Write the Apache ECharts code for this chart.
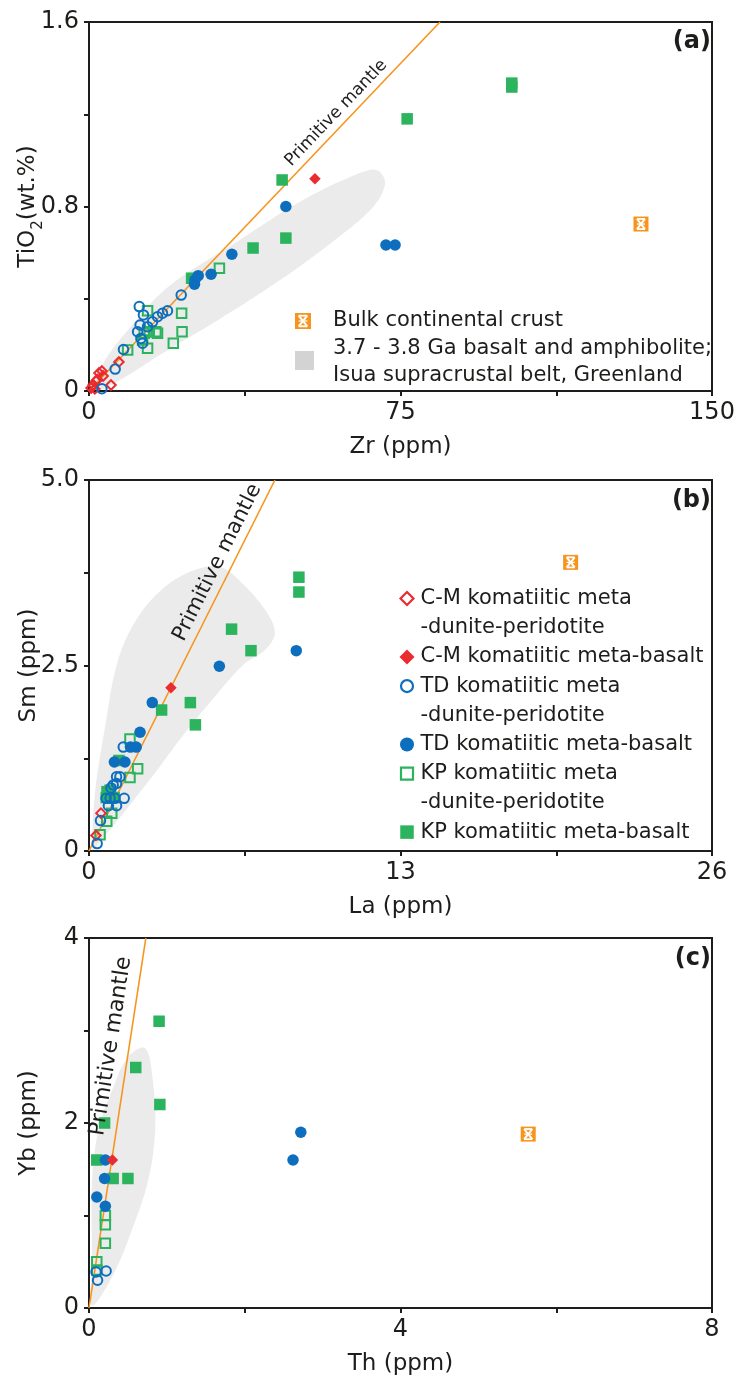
<!DOCTYPE html>
<html>
<head>
<meta charset="utf-8">
<script src="https://cdn.jsdelivr.net/npm/echarts@6/dist/echarts.min.js"></script>
<style>
  html, body { margin: 0; padding: 0; background: #fff; }
  #chart { width: 737px; height: 1382px; }
</style>
</head>
<body>
<div id="chart"></div>
<script>
// ---------- (a) Zr (ppm) vs TiO2 (wt.%) ----------
const aCmDunite = [[0.5,0.013],[1.0,0.026],[1.4,0.009],[1.7,0.043],[2.0,0.05],[2.4,0.078],[3.1,0.087],[3.4,0.065],[5.3,0.026],[7.2,0.126]];
const aCmBasalt = [[54.4,0.92]];
const aTdDunite = [[3.1,0.01],[6.3,0.095],[8.3,0.18],[11.7,0.257],[12.1,0.366],[12.3,0.286],[12.5,0.228],[12.9,0.207],[13.1,0.33],[14.1,0.279],[15.3,0.30],[16.5,0.322],[17.7,0.337],[18.9,0.348],[22.2,0.416]];
const aTdBasalt = [[25.4,0.463],[25.5,0.481],[26.3,0.50],[29.4,0.506],[34.4,0.593],[47.4,0.80],[71.5,0.633],[73.7,0.633]];
const aKpDunite = [[9.3,0.178],[12.9,0.221],[13.3,0.25],[14.1,0.185],[14.1,0.348],[14.5,0.257],[16.1,0.257],[16.5,0.25],[20.3,0.207],[22.3,0.337],[22.4,0.257],[31.4,0.532]];
const aKpBasalt = [[24.7,0.489],[39.5,0.62],[46.5,0.915],[47.4,0.663],[76.6,1.18],[101.8,1.318],[101.8,1.335]];
const aBulkCrust = [[132.9,0.724]];
const aMantle = [[0,0],[84.5,1.6]];
const aIsuaField = [[1.4,0.026],[3.9,0.135],[9.4,0.265],[19.0,0.451],[35.2,0.642],[51.5,0.828],[65.2,0.945],[69.3,0.958],[71.3,0.902],[68.4,0.798],[59.2,0.655],[46.0,0.481],[31.1,0.308],[19.0,0.178],[8.7,0.061],[2.6,0.004]];

// ---------- (b) La (ppm) vs Sm (ppm) ----------
const bCmDunite = [[0.29,0.21],[0.50,0.51]];
const bCmBasalt = [[3.42,2.20]];
const bTdDunite = [[0.34,0.10],[0.48,0.41],[0.71,0.71],[0.81,0.61],[0.88,0.71],[0.92,0.85],[1.01,0.89],[1.08,0.71],[1.15,0.61],[1.15,0.91],[1.15,1.0],[1.29,1.0],[1.43,1.40],[1.47,0.71]];
const bTdBasalt = [[1.06,1.20],[1.50,1.20],[1.73,1.40],[1.97,1.40],[2.13,1.60],[2.64,2.0],[5.44,2.49],[8.65,2.70]];
const bKpDunite = [[0.46,0.22],[0.74,0.40],[0.95,0.51],[0.88,0.82],[1.71,0.99],[2.03,1.11],[1.71,1.51]];
const bKpBasalt = [[0.72,0.72],[0.75,0.80],[0.90,0.80],[1.05,0.72],[1.25,1.22],[3.03,1.90],[4.23,2.0],[4.44,1.70],[5.95,2.99],[6.76,2.70],[8.76,3.49],[8.76,3.69]];
const bBulkCrust = [[20.1,3.89]];
const bMantle = [[0,0],[7.76,5.0]];
const bIsuaField = [[0.13,0.013],[0.25,0.78],[0.67,1.67],[1.21,2.57],[2.04,3.15],[3.17,3.56],[4.42,3.79],[5.47,3.83],[6.39,3.61],[7.35,3.25],[7.76,2.94],[7.35,2.71],[6.51,2.53],[5.38,2.13],[4.0,1.59],[2.63,1.0],[1.21,0.42],[0.25,0.04]];

// ---------- (c) Th (ppm) vs Yb (ppm) ----------
const cCmBasalt = [[0.30,1.60]];
const cTdDunite = [[0.09,0.39],[0.11,0.30],[0.22,0.40]];
const cTdBasalt = [[0.10,1.20],[0.20,1.40],[0.21,1.10],[0.21,1.60],[2.62,1.60],[2.72,1.90]];
const cKpDunite = [[0.10,0.41],[0.10,0.50],[0.21,0.70],[0.21,0.90],[0.21,1.0]];
const cKpBasalt = [[0.10,1.60],[0.20,2.0],[0.31,1.40],[0.50,1.40],[0.60,2.60],[0.91,2.20],[0.90,3.10]];
const cBulkCrust = [[5.64,1.88]];
const cMantle = [[0,0],[0.73,4.0]];
const cIsuaField = [[0.72,2.81],[0.82,2.46],[0.85,1.92],[0.76,1.38],[0.55,0.84],[0.30,0.34],[0.04,0.03],[0.04,0.49],[0.04,1.38],[0.12,1.92],[0.30,2.36],[0.50,2.71]];

// ---------- axes: ticks and labelled values ----------
const aXTicks = { max: 150, interval: 37.5, labelled: [0, 75, 150] };
const aYTicks = { max: 1.6, interval: 0.4, labelled: [0, 0.8, 1.6], text: ['0', '0.8', '1.6'] };
const bXTicks = { max: 26, interval: 6.5, labelled: [0, 13, 26] };
const bYTicks = { max: 5, interval: 1.25, labelled: [0, 2.5, 5], text: ['0', '2.5', '5.0'] };
const cXTicks = { max: 8, interval: 2, labelled: [0, 4, 8] };
const cYTicks = { max: 4, interval: 1, labelled: [0, 2, 4] };

// ---------- legend text ----------
const crustLegend = ['Bulk continental crust'];
const isuaLegend = ['3.7 - 3.8 Ga basalt and amphibolite;', 'Isua supracrustal belt, Greenland'];
const groupLegend = [
  ['C-M komatiitic meta', '-dunite-peridotite'],
  ['C-M komatiitic meta-basalt'],
  ['TD komatiitic meta', '-dunite-peridotite'],
  ['TD komatiitic meta-basalt'],
  ['KP komatiitic meta', '-dunite-peridotite'],
  ['KP komatiitic meta-basalt']
];

const FONT = '"DejaVu Sans", "Liberation Sans", sans-serif';
const INK = '#1d1d1b';
const RED = '#ea2b2f', BLUE = '#0d6ebe', GREEN = '#2bb35d', ORANGE = '#f7941d';
const FIELD = '#ebebeb', FIELD_KEY = '#d3d3d4';

const chart = echarts.init(document.getElementById('chart'), null, { renderer: 'canvas' });

function tickFormatter(t) {
  return function (v) {
    for (let i = 0; i < t.labelled.length; i++) {
      if (Math.abs(v - t.labelled[i]) < 1e-9) return t.text ? t.text[i] : String(t.labelled[i]);
    }
    return '';
  };
}

function baseAxis(gi, t, name) {
  return {
    type: 'value', gridIndex: gi, min: 0, max: t.max, interval: t.interval,
    name: name, nameLocation: 'middle', nameMoveOverlap: false,
    nameTextStyle: { fontFamily: FONT, fontSize: 23, color: INK },
    axisLine: { show: true, onZero: false, lineStyle: { color: INK, width: 2 } },
    axisTick: { show: true, inside: false, length: 5, lineStyle: { color: INK, width: 2 } },
    axisLabel: { fontFamily: FONT, fontSize: 24, color: INK, margin: 10, formatter: tickFormatter(t),
                 showMinLabel: true, showMaxLabel: true, hideOverlap: false },
    splitLine: { show: false }
  };
}
function xAxis(gi, t, name) {
  return Object.assign(baseAxis(gi, t, name), { position: 'bottom', nameGap: 45 });
}
function yAxis(gi, t, name, rich, gap) {
  const ax = Object.assign(baseAxis(gi, t, name), { position: 'left', nameGap: gap });
  if (rich) ax.nameTextStyle = Object.assign({}, ax.nameTextStyle, { rich: rich });
  return ax;
}

function scatter(name, data, gi, symbol, color, open) {
  return {
    type: 'scatter', name: name, xAxisIndex: gi, yAxisIndex: gi, data: data,
    symbol: symbol, symbolSize: open ? 9.5 : 11.5, silent: true, z: 3,
    itemStyle: open ? { color: 'none', borderColor: color, borderWidth: 2, opacity: 1 }
                    : { color: color, borderWidth: 0, opacity: 1 }
  };
}

function field(gi, pts) {
  return {
    type: 'custom', xAxisIndex: gi, yAxisIndex: gi, data: [pts[0]], z: 1, silent: true,
    renderItem: function (params, api) {
      return { type: 'polygon', shape: { points: pts.map(function (p) { return api.coord(p); }), smooth: 0.35 },
               style: { fill: FIELD } };
    }
  };
}

function mantleLine(gi, line) {
  return { type: 'line', xAxisIndex: gi, yAxisIndex: gi, data: line, symbol: 'none', z: 2, silent: true,
           lineStyle: { color: ORANGE, width: 1.6 }, clip: true };
}

// "Primitive mantle" written along the line, centred at fraction t of its length
function mantleLabel(gi, line, t, size, gap) {
  return {
    type: 'custom', xAxisIndex: gi, yAxisIndex: gi, data: [line[0]], z: 4, silent: true, clip: false,
    renderItem: function (params, api) {
      const p0 = api.coord(line[0]), p1 = api.coord(line[1]);
      const ang = Math.atan2(p0[1] - p1[1], p1[0] - p0[0]);
      return {
        type: 'text', x: p0[0] + t * (p1[0] - p0[0]), y: p0[1] + t * (p1[1] - p0[1]), rotation: ang,
        style: { text: 'Primitive mantle', x: 0, y: -gap, fontFamily: FONT, fontSize: size, fill: INK,
                 align: 'center', verticalAlign: 'bottom' }
      };
    }
  };
}

function crustGlyph(cx, cy, s) {
  const h = s / 2, k = s * 0.27;
  return {
    type: 'group', x: cx, y: cy, children: [
      { type: 'rect', shape: { x: -h, y: -h, width: s, height: s }, style: { fill: ORANGE } },
      { type: 'polyline', shape: { points: [[-k, -k - 1], [k, -k - 1]] }, style: { stroke: '#fff', lineWidth: 1.8 } },
      { type: 'polyline', shape: { points: [[-k, k + 1], [k, k + 1]] }, style: { stroke: '#fff', lineWidth: 1.8 } },
      { type: 'polyline', shape: { points: [[-k, -k - 1], [k, k + 1]] }, style: { stroke: '#fff', lineWidth: 2 } },
      { type: 'polyline', shape: { points: [[k, -k - 1], [-k, k + 1]] }, style: { stroke: '#fff', lineWidth: 2 } },
      { type: 'polyline', shape: { points: [[-k, 0], [k, 0]] }, style: { stroke: '#fff', lineWidth: 1.2 } }
    ]
  };
}

function crust(gi, data) {
  return {
    type: 'custom', xAxisIndex: gi, yAxisIndex: gi, data: data, z: 3, silent: true,
    renderItem: function (params, api) {
      const c = api.coord([api.value(0), api.value(1)]);
      return crustGlyph(c[0], c[1], 15);
    }
  };
}

const tiName = '{a|TiO}{s|2}{a|(wt.%)}';
const tiRich = {
  a: { fontFamily: FONT, fontSize: 23, color: INK, verticalAlign: 'bottom', padding: [0, 0, 6, 0] },
  s: { fontFamily: FONT, fontSize: 15, color: INK, verticalAlign: 'bottom' }
};

const series = [];
[
  [0, aIsuaField, aMantle, aCmDunite, aCmBasalt, aTdDunite, aTdBasalt, aKpDunite, aKpBasalt, aBulkCrust],
  [1, bIsuaField, bMantle, bCmDunite, bCmBasalt, bTdDunite, bTdBasalt, bKpDunite, bKpBasalt, bBulkCrust],
  [2, cIsuaField, cMantle, [], cCmBasalt, cTdDunite, cTdBasalt, cKpDunite, cKpBasalt, cBulkCrust]
].forEach(function (p) {
  const gi = p[0];
  series.push(field(gi, p[1]));
  series.push(mantleLine(gi, p[2]));
  series.push(scatter('KP komatiitic meta-dunite-peridotite', p[7], gi, 'rect', GREEN, true));
  series.push(scatter('KP komatiitic meta-basalt', p[8], gi, 'rect', GREEN, false));
  series.push(scatter('C-M komatiitic meta-dunite-peridotite', p[3], gi, 'diamond', RED, true));
  series.push(scatter('TD komatiitic meta-dunite-peridotite', p[5], gi, 'circle', BLUE, true));
  series.push(scatter('TD komatiitic meta-basalt', p[6], gi, 'circle', BLUE, false));
  series.push(scatter('C-M komatiitic meta-basalt', p[4], gi, 'diamond', RED, false));
  series.push(crust(gi, p[9]));
});
series.push(mantleLabel(0, aMantle, 0.73, 17, 4));
series.push(mantleLabel(1, bMantle, 0.76, 21, 4));
series.push(mantleLabel(2, cMantle, 0.70, 22, 7));

// keys drawn as plain graphics
const graphics = [];
graphics.push(crustGlyph(303, 321, 16));
graphics.push({ type: 'text', x: 333, y: 321, style: { text: crustLegend[0], fontFamily: FONT, fontSize: 21, fill: INK, verticalAlign: 'middle' } });
graphics.push({ type: 'rect', shape: { x: 295, y: 351, width: 19, height: 19 }, style: { fill: FIELD_KEY } });
isuaLegend.forEach(function (s, i) {
  graphics.push({ type: 'text', x: 333, y: 349 + i * 27, style: { text: s, fontFamily: FONT, fontSize: 21, fill: INK, verticalAlign: 'middle' } });
});

const keyStyles = [
  { shape: 'diamond', color: RED, open: true },
  { shape: 'diamond', color: RED, open: false },
  { shape: 'circle', color: BLUE, open: true },
  { shape: 'circle', color: BLUE, open: false },
  { shape: 'square', color: GREEN, open: true },
  { shape: 'square', color: GREEN, open: false }
];
let row = 0;
groupLegend.forEach(function (lines, i) {
  const y = 598.5 + row * 29.2, x = 407, st = keyStyles[i];
  const style = st.open ? { fill: 'none', stroke: st.color, lineWidth: 2.2 } : { fill: st.color };
  if (st.shape === 'diamond') {
    const r = st.open ? 6.5 : 7.5;
    graphics.push({ type: 'polygon', shape: { points: [[x, y - r], [x + r, y], [x, y + r], [x - r, y]] }, style: style });
  } else if (st.shape === 'circle') {
    graphics.push({ type: 'circle', shape: { cx: x, cy: y, r: st.open ? 6 : 7 }, style: style });
  } else {
    const s = st.open ? 12 : 13.5;
    graphics.push({ type: 'rect', shape: { x: x - s / 2, y: y - s / 2, width: s, height: s }, style: style });
  }
  lines.forEach(function (t) {
    graphics.push({ type: 'text', x: 420.5, y: 598.5 + row * 29.2,
                    style: { text: t, fontFamily: FONT, fontSize: 21, fill: INK, verticalAlign: 'middle' } });
    row++;
  });
});

const gridBox = { left: 89, width: 623, show: true, borderColor: INK, borderWidth: 2,
                  backgroundColor: 'transparent', containLabel: false, outerBoundsMode: 'none' };

chart.setOption({
  animation: false,
  backgroundColor: '#fff',
  title: [
    { text: '(a)', right: 26, top: 30, padding: 0, textStyle: { fontFamily: FONT, fontSize: 24, fontWeight: 'bold', color: INK } },
    { text: '(b)', right: 26, top: 489, padding: 0, textStyle: { fontFamily: FONT, fontSize: 24, fontWeight: 'bold', color: INK } },
    { text: '(c)', right: 26, top: 947, padding: 0, textStyle: { fontFamily: FONT, fontSize: 24, fontWeight: 'bold', color: INK } }
  ],
  grid: [
    Object.assign({ top: 22, height: 369 }, gridBox),
    Object.assign({ top: 480, height: 371 }, gridBox),
    Object.assign({ top: 938, height: 370 }, gridBox)
  ],
  xAxis: [xAxis(0, aXTicks, 'Zr (ppm)'), xAxis(1, bXTicks, 'La (ppm)'), xAxis(2, cXTicks, 'Th (ppm)')],
  yAxis: [yAxis(0, aYTicks, tiName, tiRich, 43), yAxis(1, bYTicks, 'Sm (ppm)', null, 48), yAxis(2, cYTicks, 'Yb (ppm)', null, 48)],
  series: series,
  graphic: graphics
});
</script>
</body>
</html>
